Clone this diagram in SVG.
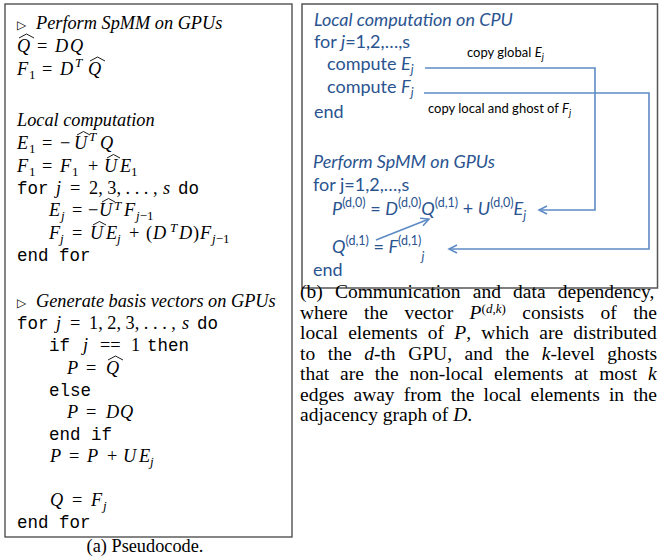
<svg xmlns="http://www.w3.org/2000/svg" width="659" height="556" viewBox="0 0 659 556">
<defs>
<style>
.rm{font-family:"Liberation Serif","Times New Roman",serif;font-size:18.3px;fill:#000}
.it{font-style:italic}
.tt{font-family:"Liberation Mono","Courier New",monospace;font-size:17.5px;fill:#000}
.sb{font-size:13px}
.tri{font-family:"DejaVu Sans",sans-serif;font-size:12px}
.hat{fill:none;stroke:#000;stroke-width:0.9}
.box{fill:none;stroke:#444;stroke-width:1.3}
.sf{font-family:Lato,"Open Sans",sans-serif;font-size:18px;fill:#2A5490}
.sup{font-size:12.5px}
.lbl{font-family:Lato,"Open Sans",sans-serif;font-size:13px;fill:#000}
.conn{fill:none;stroke:#5D8AC5;stroke-width:1.6}
.cap{font-family:"Liberation Serif","Times New Roman",serif;font-size:19.5px;fill:#000}
</style>
<marker id="ah" markerWidth="12" markerHeight="12" refX="9" refY="5" orient="auto" markerUnits="userSpaceOnUse">
<path d="M1,1 L9,5 L1,9" fill="none" stroke="#5D8AC5" stroke-width="1.5"/>
</marker>
</defs>
<rect width="659" height="556" fill="#fff"/>

<g id="pseudocode">
<rect class="box" x="5" y="4" width="287" height="533"/>
<text class="rm" y="29"><tspan x="17" class="tri">▷</tspan><tspan x="36" class="it">Perform SpMM on GPUs</tspan></text>
<text class="rm" y="52"><tspan x="17" class="it">Q</tspan><tspan x="37">=</tspan><tspan x="55" class="it">D</tspan><tspan x="70" class="it">Q</tspan></text>
<path class="hat" d="M19,38 L26.5,34 L34,38"/>
<text class="rm" y="75"><tspan x="17" class="it">F</tspan><tspan x="29" y="79" class="sb">1</tspan><tspan x="42" y="75">=</tspan><tspan x="60" class="it">D</tspan><tspan x="75" y="67" class="sb it">T</tspan><tspan x="88" y="75" class="it">Q</tspan></text>
<path class="hat" d="M90,61 L97.5,57 L105,61"/>
<text class="rm it" x="17" y="126">Local computation</text>
<text class="rm" y="149"><tspan x="17" class="it">E</tspan><tspan x="29" y="153" class="sb">1</tspan><tspan x="42" y="149">=</tspan><tspan x="60">−</tspan><tspan x="74" class="it">U</tspan><tspan x="89" y="141" class="sb it">T</tspan><tspan x="100" y="149" class="it">Q</tspan></text>
<path class="hat" d="M77,135 L83.5,131.5 L90,135"/>
<text class="rm" y="172"><tspan x="17" class="it">F</tspan><tspan x="29" y="176" class="sb">1</tspan><tspan x="42" y="172">=</tspan><tspan x="60" class="it">F</tspan><tspan x="72" y="176" class="sb">1</tspan><tspan x="88" y="172">+</tspan><tspan x="104" class="it">U</tspan><tspan x="120" class="it">E</tspan><tspan x="131" y="176" class="sb">1</tspan></text>
<path class="hat" d="M107,158 L113.5,154.5 L120,158"/>
<text class="rm" y="194"><tspan x="17" class="tt">for</tspan><tspan x="56" class="it">j</tspan><tspan x="70">=</tspan><tspan x="89">2, 3, . . . ,</tspan><tspan x="163" class="it">s</tspan><tspan x="178" class="tt">do</tspan></text>
<text class="rm" y="216"><tspan x="49" class="it">E</tspan><tspan x="61" y="220" class="sb it">j</tspan><tspan x="72" y="216">=</tspan><tspan x="88">−</tspan><tspan x="99" class="it">U</tspan><tspan x="114" y="209.5" class="sb it">T</tspan><tspan x="124" y="216" class="it">F</tspan><tspan x="136" y="220" class="sb"><tspan class="it">j</tspan>−1</tspan></text>
<path class="hat" d="M102,202 L108.5,198.5 L115,202"/>
<text class="rm" y="239"><tspan x="49" class="it">F</tspan><tspan x="60" y="243" class="sb it">j</tspan><tspan x="72" y="239">=</tspan><tspan x="90" class="it">U</tspan><tspan x="106" class="it">E</tspan><tspan x="117" y="243" class="sb it">j</tspan><tspan x="129" y="239">+</tspan><tspan x="146">(</tspan><tspan x="153" class="it">D</tspan><tspan x="170" y="232" class="sb it">T</tspan><tspan x="179" y="239" class="it">D</tspan><tspan x="193">)</tspan><tspan x="200" class="it">F</tspan><tspan x="212" y="243" class="sb"><tspan class="it">j</tspan>−1</tspan></text>
<path class="hat" d="M93,225 L99.5,221.5 L106,225"/>
<text class="tt" x="17" y="261">end for</text>
<text class="rm" y="307"><tspan x="17" class="tri">▷</tspan><tspan x="36" class="it">Generate basis vectors on GPUs</tspan></text>
<text class="rm" y="329"><tspan x="17" class="tt">for</tspan><tspan x="56" class="it">j</tspan><tspan x="70">=</tspan><tspan x="89">1, 2, 3, . . . ,</tspan><tspan x="182" class="it">s</tspan><tspan x="197" class="tt">do</tspan></text>
<text class="rm" y="351"><tspan x="49" class="tt">if</tspan><tspan x="83" class="it">j</tspan><tspan x="100">==</tspan><tspan x="131">1</tspan><tspan x="147" class="tt">then</tspan></text>
<text class="rm" y="374"><tspan x="67" class="it">P</tspan><tspan x="86">=</tspan><tspan x="106" class="it">Q</tspan></text>
<path class="hat" d="M108,360 L115.5,356 L123,360"/>
<text class="tt" x="49" y="396">else</text>
<text class="rm" y="418"><tspan x="67" class="it">P</tspan><tspan x="86">=</tspan><tspan x="106" class="it">D</tspan><tspan x="120" class="it">Q</tspan></text>
<text class="tt" x="49" y="440">end if</text>
<text class="rm" y="462"><tspan x="50" class="it">P</tspan><tspan x="69">=</tspan><tspan x="87" class="it">P</tspan><tspan x="107">+</tspan><tspan x="123" class="it">U</tspan><tspan x="139" class="it">E</tspan><tspan x="150" y="466" class="sb it">j</tspan></text>
<text class="rm" y="506"><tspan x="50" class="it">Q</tspan><tspan x="72">=</tspan><tspan x="91" class="it">F</tspan><tspan x="103" y="510" class="sb it">j</tspan></text>
<text class="tt" x="17" y="528">end for</text>
<text class="rm" x="145" y="552" text-anchor="middle">(a) Pseudocode.</text>
</g>

<g id="dependency-box">
<rect x="302" y="4" width="355.5" height="284" fill="none" stroke="#555" stroke-width="1.5"/>
</g>

<g id="cpu-block">
<text class="sf it" x="314" y="26">Local computation on CPU</text>
<text class="sf" x="314" y="48">for <tspan class="it">j</tspan>=1,2,…,s</text>
<text class="sf" x="327" y="70">compute <tspan class="it">E</tspan><tspan class="it sup" dy="4">j</tspan></text>
<text class="sf" x="327" y="93">compute <tspan class="it">F</tspan><tspan class="it sup" dy="4">j</tspan></text>
<text class="sf" x="314" y="118">end</text>
</g>

<g id="gpu-block">
<text class="sf it" x="313" y="168">Perform SpMM on GPUs</text>
<text class="sf" x="313" y="191">for j=1,2,…,s</text>
<text class="sf" y="215"><tspan x="332" class="it">P</tspan><tspan class="sup" y="207">(d,0)</tspan><tspan y="215"> = </tspan><tspan class="it">D</tspan><tspan class="sup" y="207">(d,0)</tspan><tspan class="it" y="215">Q</tspan><tspan class="sup" y="207">(d,1)</tspan><tspan y="215"> + </tspan><tspan class="it">U</tspan><tspan class="sup" y="207">(d,0)</tspan><tspan class="it" y="215">E</tspan><tspan class="it sup" y="220">j</tspan></text>
<text class="sf" y="253"><tspan x="332" class="it">Q</tspan><tspan class="sup" y="245">(d,1)</tspan><tspan y="253"> = </tspan><tspan class="it">F</tspan><tspan class="sup" y="245">(d,1)</tspan><tspan class="it sup" y="261">j</tspan></text>
<text class="sf" x="313" y="276">end</text>
</g>

<g id="connectors">
<path class="conn" d="M425,68 H595 V210 H539" marker-end="url(#ah)"/>
<path class="conn" d="M424,93 H649 V249 H449" marker-end="url(#ah)"/>
<path class="conn" d="M376,240 L429,219" marker-end="url(#ah)"/>
<text class="lbl" x="467" y="57">copy global <tspan font-style="italic">E</tspan><tspan font-style="italic" font-size="9.5px" dy="3">j</tspan></text>
<text class="lbl" x="428" y="113">copy local and ghost of <tspan font-style="italic">F</tspan><tspan font-style="italic" font-size="9.5px" dy="3">j</tspan></text>
</g>

<g id="caption-b">
<text class="cap" x="300" y="298" style="word-spacing:7.3px">(b) Communication and data dependency,</text>
<text class="cap" x="300" y="318.5" style="word-spacing:11.6px">where the vector <tspan font-style="italic">P</tspan><tspan font-size="13px" dy="-6">(<tspan font-style="italic">d</tspan>,<tspan font-style="italic">k</tspan>)</tspan><tspan dy="6"> consists of the</tspan></text>
<text class="cap" x="300" y="339" style="word-spacing:5.4px">local elements of <tspan font-style="italic">P</tspan>, which are distributed</text>
<text class="cap" x="300" y="359.5" style="word-spacing:7.7px">to the <tspan font-style="italic">d</tspan>-th GPU, and the <tspan font-style="italic">k</tspan>-level ghosts</text>
<text class="cap" x="300" y="380" style="word-spacing:6px">that are the non-local elements at most <tspan font-style="italic">k</tspan></text>
<text class="cap" x="300" y="400.5" style="word-spacing:4.2px">edges away from the local elements in the</text>
<text class="cap" x="300" y="421">adjacency graph of <tspan font-style="italic">D</tspan>.</text>
</g>
</svg>
